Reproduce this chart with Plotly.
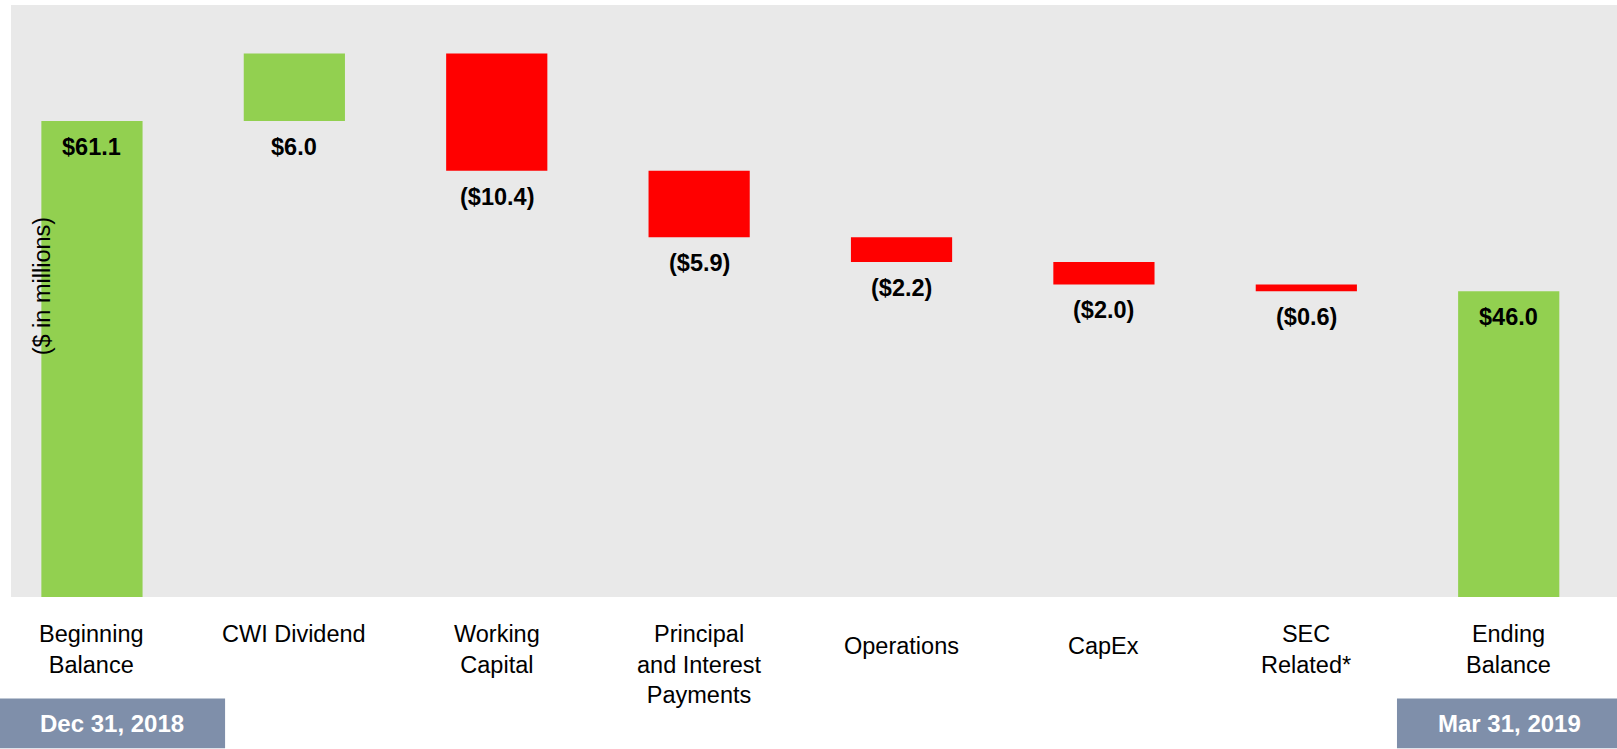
import plotly.graph_objects as go

# ---- data ----
categories = ["Beginning<br>Balance", "CWI Dividend", "Working<br>Capital",
              "Principal<br>and Interest<br>Payments", "Operations", "CapEx",
              "SEC<br>Related*", "Ending<br>Balance"]
measures = ["absolute", "relative", "relative", "relative", "relative",
            "relative", "relative", "total"]
values = [61.1, 6.0, -10.4, -5.9, -2.2, -2.0, -0.6, 46.0]
y_title = "($ in millions)"
start_label = "Dec 31, 2018"
end_label = "Mar 31, 2019"

GREEN = "#92D050"
RED = "#FF0000"
BOX = "#7F8FAA"
FONT = "Liberation Sans, Arial, sans-serif"

# single-line labels that sit a little lower in the original layout
label_drop = {"Operations": 12, "CapEx": 12}

fig = go.Figure()
fig.add_trace(go.Waterfall(
    x=categories, y=values, measure=measures,
    increasing=dict(marker=dict(color=GREEN)),
    decreasing=dict(marker=dict(color=RED)),
    totals=dict(marker=dict(color=GREEN)),
    connector=dict(visible=False),
    textinfo="none", hoverinfo="skip",
))

annotations = []
# value labels placed just below the lower edge of each step
running = 0.0
for cat, m, v in zip(categories, measures, values):
    if m == "absolute":
        running = v
        anchor = v
    elif m == "total":
        anchor = running
    else:
        start = running
        running = running + v
        anchor = min(start, running)
    txt = f"${abs(v):.1f}" if v >= 0 else f"(${abs(v):.1f})"
    annotations.append(dict(x=cat, y=anchor, xref="x", yref="y",
                            text=f"<b>{txt}</b>", showarrow=False,
                            xanchor="center", yanchor="middle", yshift=-26,
                            font=dict(family=FONT, size=23.5, color="black")))

# category labels below the plot
for cat in categories:
    annotations.append(dict(x=cat, y=0, xref="x", yref="paper", text=cat,
                            showarrow=False, xanchor="center", yanchor="top",
                            yshift=-22 - label_drop.get(cat, 0),
                            font=dict(family=FONT, size=23.5, color="black")))

annotations.append(dict(x=0.019, y=0.524, xref="paper", yref="paper",
                        text=y_title, textangle=-90, showarrow=False,
                        xanchor="center", yanchor="middle",
                        font=dict(family=FONT, size=23.5, color="black")))
annotations.append(dict(x=0.0629, y=-0.2135, xref="paper", yref="paper",
                        text=f"<b>{start_label}</b>", showarrow=False,
                        xanchor="center", yanchor="middle",
                        font=dict(family=FONT, size=24, color="white")))
annotations.append(dict(x=0.9328, y=-0.2135, xref="paper", yref="paper",
                        text=f"<b>{end_label}</b>", showarrow=False,
                        xanchor="center", yanchor="middle",
                        font=dict(family=FONT, size=24, color="white")))

shapes = [
    dict(type="rect", xref="paper", yref="paper", x0=-0.01, x1=0.1333,
         y0=-0.2557, y1=-0.1713, fillcolor=BOX, line=dict(width=0), layer="below"),
    dict(type="rect", xref="paper", yref="paper", x0=0.863, x1=1.0,
         y0=-0.2557, y1=-0.1713, fillcolor=BOX, line=dict(width=0), layer="below"),
]

fig.update_layout(
    width=1617, height=749,
    margin=dict(l=11, r=0, t=5, b=151.5),
    plot_bgcolor="#E9E9E9", paper_bgcolor="white",
    showlegend=False, waterfallgap=0.5,
    font=dict(family=FONT, color="black"),
    annotations=annotations, shapes=shapes,
    xaxis=dict(range=[-0.40, 7.535], showgrid=False, zeroline=False,
               showline=False, ticks="", showticklabels=False),
    yaxis=dict(range=[18.87, 71.4], showgrid=False, zeroline=False,
               showline=False, showticklabels=False, ticks=""),
)

fig.write_html("out.html",
               config={"displayModeBar": False},
               post_script="document.body.style.margin='0';"
                           "document.body.style.overflow='hidden';")
